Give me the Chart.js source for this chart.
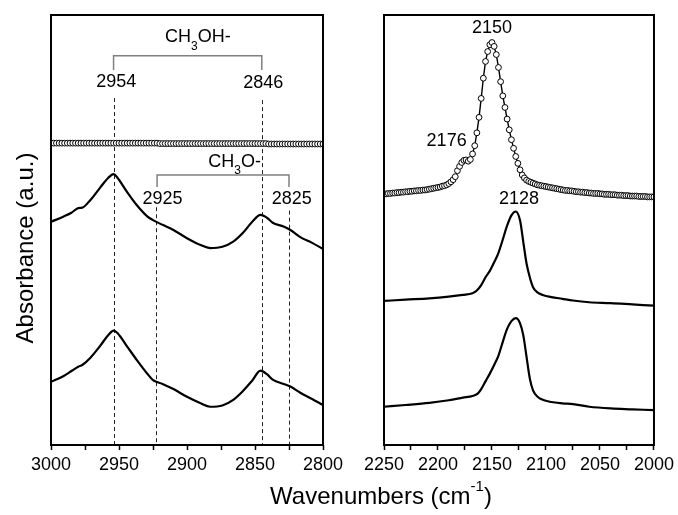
<!DOCTYPE html>
<html>
<head>
<meta charset="utf-8">
<script src="https://cdn.jsdelivr.net/npm/chart.js@4.4.0/dist/chart.umd.min.js"></script>
<style>
html, body { margin: 0; padding: 0; background: #fff; }
#wrap { position: relative; width: 678px; height: 515px; }
#wrap canvas { position: absolute; left: 0; top: 0; }
</style>
</head>
<body>
<div id="wrap">
  <canvas id="leftChart" width="678" height="515" style="width:678px;height:515px"></canvas>
  <canvas id="rightChart" width="678" height="515" style="width:678px;height:515px"></canvas>
</div>
<script>
// ---- left panel: C-H stretching region ----
const leftWn = [3000, 2991, 2985, 2980, 2977, 2971, 2964, 2958, 2954, 2951, 2944, 2937, 2929, 2925, 2918, 2910,
  2900, 2890, 2883, 2874, 2866, 2859, 2852, 2846, 2841, 2837, 2829, 2824, 2817, 2808, 2800];
const leftMid = [5.19, 5.31, 5.40, 5.51, 5.52, 5.70, 5.98, 6.21, 6.30, 6.21, 5.88, 5.58, 5.31, 5.23, 5.12, 5.00,
  4.81, 4.65, 4.58, 4.61, 4.73, 4.93, 5.19, 5.35, 5.28, 5.17, 5.08, 5.00, 4.84, 4.70, 4.56];
const leftLow = [1.47, 1.60, 1.72, 1.82, 1.86, 2.03, 2.30, 2.55, 2.66, 2.60, 2.29, 1.98, 1.65, 1.51, 1.42, 1.30,
  1.12, 0.97, 0.89, 0.92, 1.05, 1.25, 1.50, 1.73, 1.64, 1.52, 1.42, 1.36, 1.22, 1.07, 0.93];

// open circles, flat trace
const leftGridWn = [
  3000, 2998, 2996, 2994, 2992, 2990, 2988, 2986, 2984, 2982,
  2980, 2978, 2976, 2974, 2972, 2970, 2968, 2966, 2964, 2962,
  2960, 2958, 2956, 2954, 2952, 2950, 2948, 2946, 2944, 2942,
  2940, 2938, 2936, 2934, 2932, 2930, 2928, 2926, 2924, 2922,
  2920, 2918, 2916, 2914, 2912, 2910, 2908, 2906, 2904, 2902,
  2900, 2898, 2896, 2894, 2892, 2890, 2888, 2886, 2884, 2882,
  2880, 2878, 2876, 2874, 2872, 2870, 2868, 2866, 2864, 2862,
  2860, 2858, 2856, 2854, 2852, 2850, 2848, 2846, 2844, 2842,
  2840, 2838, 2836, 2834, 2832, 2830, 2828, 2826, 2824, 2822,
  2820, 2818, 2816, 2814, 2812, 2810, 2808, 2806, 2804, 2802,
  2800];
const leftCircles = [
  7.02, 7.02, 7.02, 7.02, 7.02, 7.02, 7.02, 7.02, 7.02, 7.02,
  7.02, 7.02, 7.02, 7.02, 7.02, 7.02, 7.02, 7.02, 7.02, 7.02,
  7.02, 7.02, 7.02, 7.02, 7.02, 7.02, 7.02, 7.02, 7.02, 7.02,
  7.02, 7.02, 7.02, 7.02, 7.02, 7.02, 7.02, 7.02, 7.02, 7.02,
  7.01, 7.01, 7.01, 7.01, 7.01, 7.01, 7.01, 7.01, 7.01, 7.01,
  7.01, 7.01, 7.01, 7.01, 7.01, 7.01, 7.01, 7.01, 7.01, 7.01,
  7.01, 7.01, 7.01, 7.01, 7.01, 7.01, 7.01, 7.01, 7.01, 7.01,
  7.01, 7.01, 7.01, 7.01, 7.01, 7.01, 7.01, 7.01, 7.01, 7.01,
  7.00, 7.00, 7.00, 7.00, 7.00, 7.00, 7.00, 7.00, 7.00, 7.00,
  7.00, 7.00, 7.00, 7.00, 7.00, 7.00, 7.00, 7.00, 7.00, 7.00,
  7.00];

// ---- right panel: CO region ----
const rightWn = [2250, 2230, 2208, 2190, 2177, 2168, 2165, 2163, 2160, 2156, 2152, 2148, 2144, 2140, 2136, 2132,
  2128, 2124, 2121, 2118, 2115, 2112, 2108, 2103, 2095, 2085, 2075, 2060, 2040, 2020, 2000];
const rightMid = [3.35, 3.38, 3.41, 3.45, 3.49, 3.53, 3.57, 3.62, 3.72, 3.90, 4.05, 4.25, 4.47, 4.78, 5.10, 5.34,
  5.43, 5.22, 4.72, 4.22, 3.90, 3.67, 3.55, 3.49, 3.44, 3.40, 3.36, 3.32, 3.30, 3.27, 3.24];
const rightLow = [0.89, 0.93, 0.98, 1.04, 1.10, 1.14, 1.17, 1.20, 1.30, 1.48, 1.66, 1.86, 2.08, 2.40, 2.70, 2.88,
  2.95, 2.83, 2.55, 2.05, 1.55, 1.27, 1.13, 1.05, 1.00, 0.97, 0.95, 0.89, 0.85, 0.83, 0.81];

const rightGridWn = [
  2250, 2248, 2246, 2244, 2242, 2240, 2238, 2236, 2234, 2232,
  2230, 2228, 2226, 2224, 2222, 2220, 2218, 2216, 2214, 2212,
  2210, 2208, 2206, 2204, 2202, 2200, 2198, 2196, 2194, 2192,
  2190, 2188, 2186, 2184, 2182, 2180, 2178, 2176, 2174, 2172,
  2170, 2168, 2166, 2164, 2162, 2160, 2158, 2156, 2154, 2152,
  2150, 2148, 2146, 2144, 2142, 2140, 2138, 2136, 2134, 2132,
  2130, 2128, 2126, 2124, 2122, 2120, 2118, 2116, 2114, 2112,
  2110, 2108, 2106, 2104, 2102, 2100, 2098, 2096, 2094, 2092,
  2090, 2088, 2086, 2084, 2082, 2080, 2078, 2076, 2074, 2072,
  2070, 2068, 2066, 2064, 2062, 2060, 2058, 2056, 2054, 2052,
  2050, 2048, 2046, 2044, 2042, 2040, 2038, 2036, 2034, 2032,
  2030, 2028, 2026, 2024, 2022, 2020, 2018, 2016, 2014, 2012,
  2010, 2008, 2006, 2004, 2002, 2000];
const rightCircles = [
  5.84, 5.84, 5.85, 5.85, 5.86, 5.86, 5.87, 5.87, 5.88, 5.88,
  5.89, 5.89, 5.90, 5.90, 5.91, 5.91, 5.92, 5.92, 5.93, 5.93,
  5.94, 5.95, 5.96, 5.97, 5.98, 5.99, 6.00, 6.02, 6.03, 6.05,
  6.08, 6.12, 6.17, 6.24, 6.38, 6.48, 6.57, 6.62, 6.63, 6.60,
  6.64, 6.77, 6.96, 7.26, 7.62, 8.06, 8.53, 8.92, 9.15, 9.31,
  9.36, 9.27, 9.08, 8.78, 8.45, 8.12, 7.85, 7.58, 7.33, 7.10,
  6.90, 6.71, 6.55, 6.40, 6.28, 6.21, 6.16, 6.13, 6.11, 6.09,
  6.07, 6.05, 6.04, 6.03, 6.02, 6.01, 6.00, 5.99, 5.98, 5.97,
  5.96, 5.95, 5.94, 5.93, 5.92, 5.92, 5.91, 5.91, 5.90, 5.89,
  5.89, 5.88, 5.88, 5.87, 5.87, 5.86, 5.86, 5.85, 5.85, 5.85,
  5.84, 5.84, 5.83, 5.83, 5.83, 5.82, 5.82, 5.82, 5.81, 5.81,
  5.81, 5.80, 5.80, 5.80, 5.79, 5.79, 5.79, 5.79, 5.78, 5.78,
  5.78, 5.78, 5.77, 5.77, 5.77, 5.77];

// tick labels
const leftTickLabels = [3000, 2950, 2900, 2850, 2800];
const rightTickLabels = [2250, 2200, 2150, 2100, 2050, 2000];

// annotations, left panel
const peakLabels = ['2954', '2846', '2925', '2825'];
const peakLabelWn = [2952, 2844, 2918, 2823];
const peakLabelY = [8.44, 8.42, 5.73, 5.73];
const dashWn = [2954, 2845, 2923, 2825];
const dashTop = [8.07, 8.02, 5.53, 5.45];
const groupNames = [['CH', '3', 'OH-'], ['CH', '3', 'O-']];
const groupWn = [2892, 2865];
const groupY = [9.48, 6.58];
const bracketFrom = [2954, 2922];
const bracketTo = [2845, 2825];
const bracketBar = [9.05, 6.28];
const bracketFoot = [8.72, 6.00];

// annotations, right panel
const rightLabels = ['2150', '2176', '2128'];
const rightLabelWn = [2150, 2192, 2125];
const rightLabelY = [9.69, 7.07, 5.72];

const FONT = '"Liberation Sans", Arial, sans-serif';

function pts(xs, ys) {
    return xs.map((x, i) => ({x: x, y: ys[i]}));
}

function solid(xs, ys) {
    return {
        data: pts(xs, ys),
        borderColor: '#000',
        borderWidth: 2.2,
        pointRadius: 0,
        cubicInterpolationMode: 'monotone',
    };
}

function circles(xs, ys) {
    return {
        data: pts(xs, ys),
        borderColor: '#000',
        borderWidth: 1.4,
        pointRadius: 2.9,
        pointBackgroundColor: '#fff',
        pointBorderColor: '#000',
        pointBorderWidth: 1,
        tension: 0,
    };
}

// text with a subscript in the middle, centered on (cx, cy)
function drawParts(ctx, parts, cx, cy) {
    const big = '18px ' + FONT, small = '12px ' + FONT;
    let widths = parts.map((p, i) => {
        ctx.font = i === 1 ? small : big;
        return ctx.measureText(p).width;
    });
    let total = widths.reduce((a, b) => a + b, 0);
    let x = cx - total / 2;
    ctx.textAlign = 'left';
    ctx.textBaseline = 'middle';
    parts.forEach((p, i) => {
        ctx.font = i === 1 ? small : big;
        ctx.fillText(p, x, i === 1 ? cy + 9 : cy);
        x += widths[i];
    });
}

const boxPlugin = {
    id: 'box',
    afterDraw(chart) {
        const {ctx, chartArea: a} = chart;
        ctx.save();
        ctx.strokeStyle = '#000';
        ctx.lineWidth = 2;
        ctx.strokeRect(a.left, a.top, a.right - a.left, a.bottom - a.top);
        ctx.restore();
    }
};

const leftNotes = {
    id: 'leftNotes',
    beforeDatasetsDraw(chart) {
        const {ctx, scales: {x, y}} = chart;
        ctx.save();
        ctx.strokeStyle = '#222';
        ctx.lineWidth = 1;
        ctx.setLineDash([4, 3]);
        dashWn.forEach((w, i) => {
            const px = Math.round(x.getPixelForValue(w)) + 0.5;
            ctx.beginPath();
            ctx.moveTo(px, y.getPixelForValue(dashTop[i]));
            ctx.lineTo(px, y.getPixelForValue(0));
            ctx.stroke();
        });
        ctx.restore();
    },
    afterDraw(chart) {
        const {ctx, scales: {x, y}} = chart;
        ctx.save();
        // brackets
        ctx.strokeStyle = '#808080';
        ctx.lineWidth = 1.5;
        bracketFrom.forEach((f, i) => {
            const x1 = x.getPixelForValue(f), x2 = x.getPixelForValue(bracketTo[i]);
            const yb = y.getPixelForValue(bracketBar[i]), yf = y.getPixelForValue(bracketFoot[i]);
            ctx.beginPath();
            ctx.moveTo(x1, yf);
            ctx.lineTo(x1, yb);
            ctx.lineTo(x2, yb);
            ctx.lineTo(x2, yf);
            ctx.stroke();
        });
        ctx.fillStyle = '#000';
        groupNames.forEach((g, i) => {
            drawParts(ctx, g, x.getPixelForValue(groupWn[i]), y.getPixelForValue(groupY[i]));
        });
        ctx.font = '18px ' + FONT;
        ctx.textAlign = 'center';
        ctx.textBaseline = 'middle';
        peakLabels.forEach((t, i) => {
            ctx.fillText(t, x.getPixelForValue(peakLabelWn[i]), y.getPixelForValue(peakLabelY[i]));
        });

        // axis titles
        ctx.font = '24px ' + FONT;
        ctx.save();
        ctx.translate(26, 248);
        ctx.rotate(-Math.PI / 2);
        ctx.fillText('Absorbance (a.u.)', 0, 0);
        ctx.restore();

        const main = 'Wavenumbers (cm', sup = '-1', tail = ')';
        ctx.font = '24px ' + FONT;
        const w1 = ctx.measureText(main).width, w3 = ctx.measureText(tail).width;
        ctx.font = '15px ' + FONT;
        const w2 = ctx.measureText(sup).width;
        let tx = 381 - (w1 + w2 + w3) / 2;
        ctx.textAlign = 'left';
        ctx.font = '24px ' + FONT;
        ctx.fillText(main, tx, 497);
        ctx.font = '15px ' + FONT;
        ctx.fillText(sup, tx + w1, 487);
        ctx.font = '24px ' + FONT;
        ctx.fillText(tail, tx + w1 + w2, 497);
        ctx.restore();
    }
};

const rightNotes = {
    id: 'rightNotes',
    afterDraw(chart) {
        const {ctx, scales: {x, y}} = chart;
        ctx.save();
        ctx.fillStyle = '#000';
        ctx.font = '18px ' + FONT;
        ctx.textAlign = 'center';
        ctx.textBaseline = 'middle';
        rightLabels.forEach((t, i) => {
            ctx.fillText(t, x.getPixelForValue(rightLabelWn[i]), y.getPixelForValue(rightLabelY[i]));
        });
        ctx.restore();
    }
};

function makeOptions(min, max, labels, pad) {
    return {
        responsive: false,
        animation: false,
        events: [],
        layout: {padding: pad},
        plugins: {legend: {display: false}, tooltip: {enabled: false}},
        scales: {
            x: {
                type: 'linear',
                min: min,
                max: max,
                reverse: true,
                afterFit: (scale) => { scale.height = 70; },
                border: {display: false},
                grid: {
                    display: true,
                    drawOnChartArea: false,
                    drawTicks: true,
                    tickLength: 5,
                    tickColor: '#000',
                    tickWidth: 1.5,
                },
                ticks: {
                    stepSize: 25,
                    autoSkip: false,
                    maxRotation: 0,
                    padding: 4,
                    color: '#000',
                    font: {family: FONT, size: 18},
                    callback: (v) => labels.includes(v) ? String(v) : '',
                },
            },
            y: {
                min: 0,
                max: 10,
                display: false,
            }
        }
    };
}

new Chart(document.getElementById('leftChart'), {
    type: 'line',
    data: {
        datasets: [
            circles(leftGridWn, leftCircles),
            solid(leftWn, leftMid),
            solid(leftWn, leftLow),
        ]
    },
    options: makeOptions(2800, 3000, leftTickLabels, {left: 51, right: 355, top: 15, bottom: 0}),
    plugins: [leftNotes, boxPlugin],
});

new Chart(document.getElementById('rightChart'), {
    type: 'line',
    data: {
        datasets: [
            circles(rightGridWn, rightCircles),
            solid(rightWn, rightMid),
            solid(rightWn, rightLow),
        ]
    },
    options: makeOptions(2000, 2250, rightTickLabels, {left: 384, right: 22, top: 15, bottom: 0}),
    plugins: [rightNotes, boxPlugin],
});
</script>
</body>
</html>
